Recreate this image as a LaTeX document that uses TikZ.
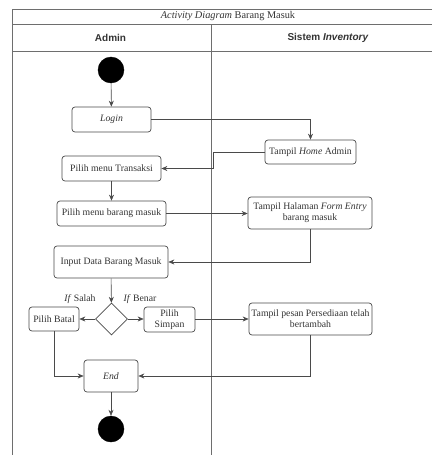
\documentclass[tikz,border=0pt]{standalone}
\usepackage{fontspec}
\setmainfont{Liberation Serif}
\newfontfamily\hdrfont{Liberation Sans}
\usetikzlibrary{arrows.meta,shapes.geometric}
\definecolor{ln}{HTML}{4A4A4A}
\definecolor{tx}{HTML}{333333}
\begin{document}
\begin{tikzpicture}[x=1pt,y=-1pt,
  act/.style={draw=ln,rounded corners=3pt,align=center,font=\fontsize{9.75}{11}\selectfont,text=tx,inner sep=1pt,line width=0.7pt},
  dot/.style={circle,fill=black,draw=black,minimum size=26pt,inner sep=0pt},
  dec/.style={diamond,draw=ln,line width=0.7pt,minimum width=32pt,minimum height=32pt,inner sep=0pt},
  flow/.style={draw=ln,line width=0.6pt,-{Stealth[length=6pt,width=5pt]}},
  frame/.style={draw=ln!80,line width=0.8pt},
  lbl/.style={font=\fontsize{9.75}{11}\selectfont,text=tx,inner sep=0pt}]
\useasboundingbox (0,0) rectangle (432,455);
% frame
\draw[frame] (432,9) -- (12,9) -- (12,455);
\draw[frame] (12,24) -- (432,24);
\draw[frame] (12,51) -- (432,51);
\draw[frame] (211,24) -- (211,455);
\node[lbl,font=\fontsize{10.3}{12}\selectfont] (title) at (228,16.5) {\textit{Activity Diagram} Barang Masuk};
\node[lbl,font=\hdrfont\bfseries\fontsize{10}{12}\selectfont] (hadmin) at (110.5,37.5) {Admin};
\node[lbl,font=\hdrfont\bfseries\fontsize{10}{12}\selectfont] (hsys) at (328,37.5) {Sistem \textit{Inventory}};
% nodes
\node[dot] (start) at (111,70) {};
\node[act,minimum width=79pt,minimum height=25pt] (login) at (111.5,119.5) {\textit{Login}};
\node[act,minimum width=91pt,minimum height=24pt] (home) at (310.5,152) {Tampil \textit{Home} Admin};
\node[act,minimum width=99pt,minimum height=25pt] (trans) at (111.5,168.5) {Pilih menu Transaksi};
\node[act,minimum width=109pt,minimum height=25pt] (menu) at (111.5,213.5) {Pilih menu barang masuk};
\node[act,minimum width=124pt,minimum height=32pt] (form) at (310,213) {Tampil Halaman \textit{Form Entry}\\barang masuk};
\node[act,minimum width=114pt,minimum height=32pt] (input) at (111,262) {Input Data Barang Masuk};
\node[dec] (dec) at (111.5,319) {};
\node[act,minimum width=50pt,minimum height=24pt] (batal) at (54,319) {Pilih Batal};
\node[act,minimum width=51pt,minimum height=25pt] (simpan) at (169.5,319.5) {Pilih\\Simpan};
\node[act,minimum width=123pt,minimum height=32pt] (pesan) at (310.5,319) {Tampil pesan Persediaan telah\\bertambah};
\node[act,minimum width=54pt,minimum height=32pt] (end) at (111,376) {\textit{End}};
\node[dot] (final) at (111,429) {};
\node[lbl] (lsalah) at (80,299) {\textit{If} Salah};
\node[lbl] (lbenar) at (140,299) {\textit{If} Benar};
% connectors
\draw[flow] (start) -- (login);
\draw[flow] (login.east) -| (home.north);
\coordinate (hk) at (213,152);
\draw[flow] (home.west) -- (hk) |- (trans.east);
\draw[flow] (trans) -- (menu);
\draw[flow] (menu.east) -- (form.west |- menu.east);
\draw[flow] (form.south) |- (input.east);
\draw[flow] (input) -- (dec);
\draw[flow] (dec.west) -- (batal.east);
\draw[flow] (dec.east) -- (simpan.west |- dec.east);
\draw[flow] (simpan.east |- pesan.west) -- (pesan.west);
\draw[flow] (batal.south) |- (end.west);
\draw[flow] (pesan.south) |- (end.east);
\draw[flow] (end) -- (final);
\end{tikzpicture}
\end{document}
